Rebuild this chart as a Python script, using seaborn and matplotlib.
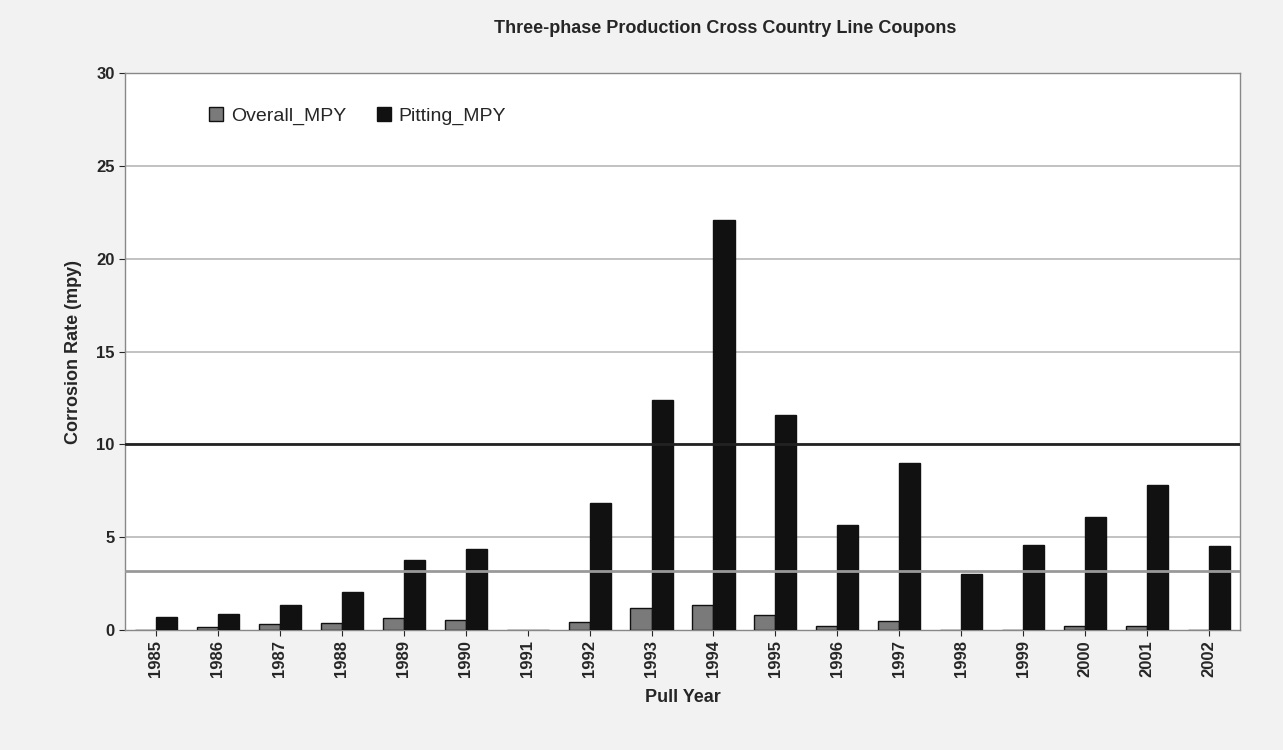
import matplotlib
matplotlib.use("Agg")
import matplotlib.pyplot as plt
import seaborn as sns
import pandas as pd

years = ["1985", "1986", "1987", "1988", "1989", "1990", "1991", "1992", "1993",
         "1994", "1995", "1996", "1997", "1998", "1999", "2000", "2001", "2002"]
overall_mpy = [0.0, 0.15, 0.3, 0.4, 0.65, 0.55, 0.0, 0.45, 1.2,
               1.35, 0.8, 0.2, 0.5, 0.0, 0.0, 0.2, 0.2, 0.0]
pitting_mpy = [0.7, 0.85, 1.35, 2.05, 3.75, 4.35, 0.0, 6.85, 12.4,
               22.1, 11.6, 5.65, 9.0, 3.0, 4.6, 6.1, 7.8, 4.5]
series = ["Overall_MPY", "Pitting_MPY"]
threshold_high = 10
threshold_low = 3.2

df = pd.DataFrame({
    "year": years * 2,
    "series": [series[0]] * len(years) + [series[1]] * len(years),
    "mpy": overall_mpy + pitting_mpy,
})

sns.set_style("white")
plt.rcParams["font.family"] = ["Liberation Sans", "DejaVu Sans"]

fig = plt.figure(figsize=(12.83, 7.5), dpi=100, facecolor="#f2f2f2")
ax = fig.add_axes([125 / 1283, 1 - 630 / 750, 1115 / 1283, 557 / 750])
ax.set_facecolor("white")

for y in range(5, 31, 5):
    ax.axhline(y, color="#b8b8b8", lw=1.2, zorder=0)

sns.barplot(data=df, x="year", y="mpy", hue="series", palette=["#7a7a7a", "#111111"],
            width=0.68, edgecolor="#111111", linewidth=1, saturation=1, ax=ax, zorder=3)

ax.axhline(threshold_high, color="#222222", lw=2, zorder=4)
ax.axhline(threshold_low, color="#999999", lw=2, zorder=4)

ax.set_ylim(0, 30)
ax.set_yticks(range(0, 31, 5))
ax.tick_params(axis="y", labelsize=12, length=4, left=True)
ax.tick_params(axis="x", labelsize=12, rotation=90, length=4, bottom=True)
for lab in ax.get_yticklabels() + ax.get_xticklabels():
    lab.set_fontweight("bold")
ax.set_xlabel("Pull Year", fontsize=13, fontweight="bold", labelpad=8)
ax.set_ylabel("Corrosion Rate (mpy)", fontsize=13, fontweight="bold", labelpad=10)
fig.text(0.565, 0.962, "Three-phase Production Cross Country Line Coupons",
         ha="center", va="center", fontsize=13, fontweight="bold")

for s in ax.spines.values():
    s.set_color("#888888")
    s.set_linewidth(1)

leg = ax.legend(loc="upper left", bbox_to_anchor=(0.06, 0.97), ncol=2, frameon=False,
                fontsize=14, handlelength=0.7, handleheight=0.7, columnspacing=1.6,
                handletextpad=0.4)

fig.savefig("out.png", dpi=100, facecolor=fig.get_facecolor())
